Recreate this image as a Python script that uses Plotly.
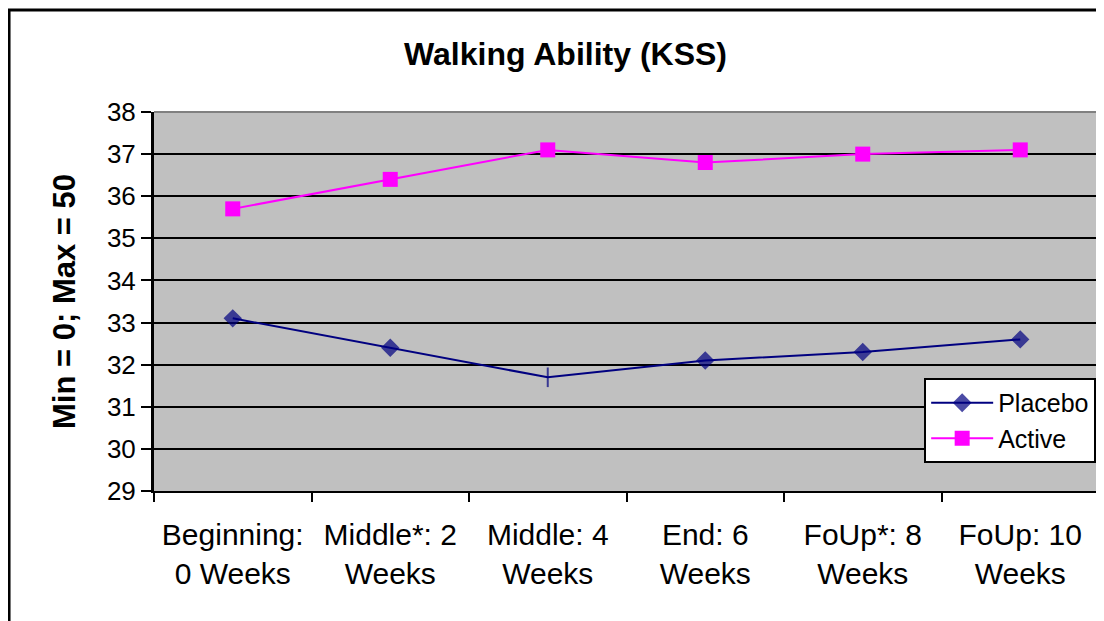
import plotly.graph_objects as go

categories = ["Beginning:<br>0 Weeks", "Middle*: 2<br>Weeks", "Middle: 4<br>Weeks",
              "End: 6<br>Weeks", "FoUp*: 8<br>Weeks", "FoUp: 10<br>Weeks"]
placebo = [33.1, 32.4, 31.7, 32.1, 32.3, 32.6]
active = [35.7, 36.4, 37.1, 36.8, 37.0, 37.1]
y_ticks = list(range(29, 39))

FONT = "Liberation Sans, Arial, sans-serif"

fig = go.Figure()
fig.add_trace(go.Scatter(
    x=categories, y=placebo, name="Placebo", mode="lines+markers",
    line=dict(color="#000080", width=2),
    marker=dict(symbol=["diamond", "diamond", "line-ns", "diamond", "diamond", "diamond"],
                size=[12, 12, 14, 12, 12, 12], color="#000080",
                line=dict(color="#000080", width=2)),
))
fig.add_trace(go.Scatter(
    x=categories, y=active, name="Active", mode="lines+markers",
    line=dict(color="#FF00FF", width=2),
    marker=dict(symbol="square", size=15, color="#FF00FF"),
))

fig.update_layout(
    width=1104, height=621,
    margin=dict(l=146, r=13, t=104, b=138),
    paper_bgcolor="white", plot_bgcolor="#C0C0C0",
    font=dict(family=FONT, color="black", size=26),
    title=dict(text="<b>Walking Ability (KSS)</b>", x=0.505, xanchor="center",
               y=0.927, yanchor="middle", font=dict(size=32)),
    showlegend=True,
    legend=dict(x=0.997, xanchor="right", y=0.074, yanchor="bottom",
                bgcolor="white", bordercolor="black", borderwidth=2,
                font=dict(size=25), tracegroupgap=0, itemwidth=62),
    shapes=[
        dict(type="rect", xref="paper", yref="paper", x0=-0.1534, x1=1.1, y0=-0.5, y1=1.269,
             line=dict(color="black", width=3), layer="above"),
        dict(type="line", xref="paper", yref="paper", x0=0, x1=1, y0=1, y1=1,
             line=dict(color="#808080", width=2), layer="above"),
        dict(type="line", xref="paper", yref="paper", x0=1, x1=1, y0=0, y1=1,
             line=dict(color="#808080", width=2), layer="above"),
    ],
)

fig.update_xaxes(
    type="category", range=[-0.5, 5.5], tickson="boundaries",
    ticks="outside", ticklen=9, tickwidth=2, tickcolor="black",
    showline=True, linecolor="black", linewidth=2, showgrid=False,
    tickfont=dict(size=30), ticklabelstandoff=16, automargin=False,
)
fig.update_yaxes(
    range=[29, 38], tickvals=y_ticks, ticks="outside", ticklen=10, tickwidth=2,
    tickcolor="black", showline=True, linecolor="black", linewidth=3,
    showgrid=True, gridcolor="black", gridwidth=2, zeroline=False,
    tickfont=dict(size=26), automargin=False,
    title=dict(text="<b>Min = 0; Max = 50</b>", font=dict(size=31), standoff=23),
)

fig.write_html("out.html")
